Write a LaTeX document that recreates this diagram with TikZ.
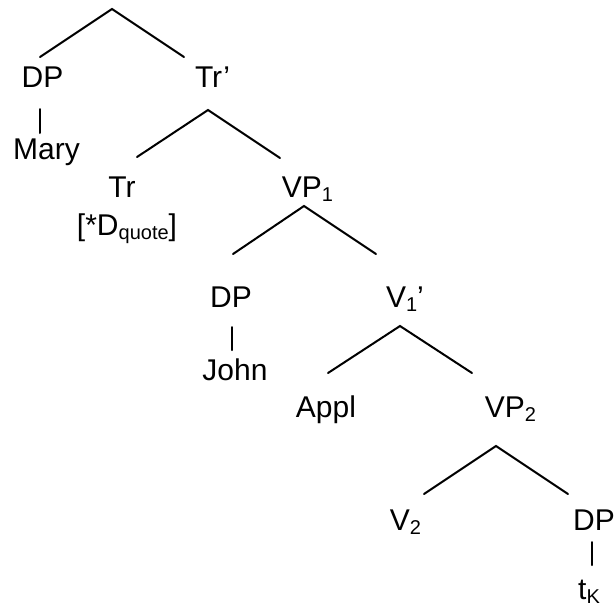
\documentclass[tikz,border=0pt]{standalone}
\usepackage{fontspec}
\setmainfont{Liberation Sans}
\newcommand{\lowsub}[1]{\raisebox{-4pt}{\fontsize{20}{24}\selectfont #1}}
\begin{document}
\begin{tikzpicture}[x=1pt,y=-1pt,
  lbl/.style={anchor=base,inner sep=0pt,font=\fontsize{30}{36}\selectfont},
  br/.style={line width=2pt,line cap=round}]
\useasboundingbox (0,0) rectangle (615,606);
% labels
\node[lbl] (dp1)   at (42.5,87)  {DP};
\node[lbl] (trp)   at (212.5,87) {Tr’};
\node[lbl] (mary)  at (46.5,159) {Mary};
\node[lbl] (tr)    at (122,197)  {Tr};
\node[lbl] (feat)  at (127,235)  {[*D\lowsub{quote}]};
\node[lbl] (vp1)   at (307.5,197) {VP\lowsub{1}};
\node[lbl] (dp2)   at (231,307)  {DP};
\node[lbl] (john)  at (235,380)  {John};
\node[lbl] (v1p)   at (405,307)  {V\lowsub{1}’};
\node[lbl] (appl)  at (326,417)  {Appl};
\node[lbl] (vp2)   at (510.5,417) {VP\lowsub{2}};
\node[lbl] (v2)    at (405.5,530) {V\lowsub{2}};
\node[lbl] (dp3)   at (594,530)  {DP};
\node[lbl] (tk)    at (589,599)  {t\lowsub{K}};
% branch points
\coordinate (a0) at (112,9);
\coordinate (a0l) at (40,57);
\coordinate (a0r) at (184,57);
\coordinate (a1) at (208,110);
\coordinate (a1l) at (137,157);
\coordinate (a1r) at (280,158);
\coordinate (a2) at (304,206);
\coordinate (a2l) at (233,254);
\coordinate (a2r) at (376,254);
\coordinate (a3) at (400,326);
\coordinate (a3l) at (328,373);
\coordinate (a3r) at (472,373);
\coordinate (a4) at (496,446);
\coordinate (a4l) at (424,494);
\coordinate (a4r) at (568,494);
\coordinate (m1) at (40,109);
\coordinate (m2) at (40,133);
\coordinate (j1) at (232,327);
\coordinate (j2) at (232,350);
\coordinate (t1) at (592,542);
\coordinate (t2) at (592,565);
% branches
\draw[br] (a0l) -- (a0) -- (a0r);
\draw[br] (a1l) -- (a1) -- (a1r);
\draw[br] (a2l) -- (a2) -- (a2r);
\draw[br] (a3l) -- (a3) -- (a3r);
\draw[br] (a4l) -- (a4) -- (a4r);
\draw[br] (m1) -- (m2);
\draw[br] (j1) -- (j2);
\draw[br] (t1) -- (t2);
\end{tikzpicture}
\end{document}
